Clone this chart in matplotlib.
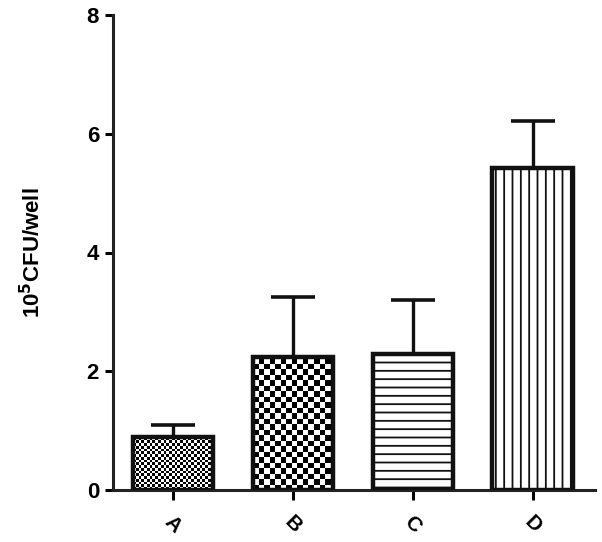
import matplotlib.pyplot as plt
import numpy as np
from matplotlib.patches import Rectangle

plt.rcParams['font.family'] = ['Liberation Sans', 'DejaVu Sans']
plt.rcParams['font.weight'] = 'bold'
plt.rcParams['hatch.linewidth'] = 1.3

groups = ['A', 'B', 'C', 'D']
means = [0.89, 2.24, 2.29, 5.42]
sems = [0.20, 1.01, 0.91, 0.79]
fills = ['check_fine', 'check_coarse', '--', '||']

fig = plt.figure(figsize=(6.02, 5.42), dpi=100)
ax = fig.add_axes([113 / 602, 52 / 542, (595 - 113) / 602, (490 - 15) / 542])
ax.set_xlim(-0.5, 3.52)
ax.set_ylim(0, 8)

x = np.arange(len(groups))
w = 0.67
ax.errorbar(x, means, yerr=[np.zeros(len(sems)), sems], fmt='none', ecolor='#111111',
            elinewidth=2.4, capsize=16, capthick=2.6, zorder=1)
bars = ax.bar(x, means, w, color='white', edgecolor='#111111', linewidth=3.2, zorder=3)

fig.canvas.draw()
px_x = ax.transData.transform((1, 0))[0] - ax.transData.transform((0, 0))[0]
px_y = ax.transData.transform((0, 1))[1] - ax.transData.transform((0, 0))[1]

# checkerboard fills are drawn as images clipped to the bar
for bar, fill in zip(bars, fills):
    if fill.startswith('check'):
        bar.set_facecolor('none')
        cell = 2.75 if fill == 'check_fine' else 5.5
        x0, y0 = bar.get_x(), bar.get_y()
        bw, bh = bar.get_width(), bar.get_height()
        nx = int(np.ceil(bw * px_x / cell))
        ny = int(np.ceil(bh * px_y / cell))
        board = (np.add.outer(np.arange(ny), np.arange(nx)) % 2).astype(float)
        im = ax.imshow(board, cmap='gray', vmin=0, vmax=1, interpolation='nearest',
                       origin='lower', aspect='auto', zorder=2,
                       extent=(x0, x0 + nx * cell / px_x, y0, y0 + ny * cell / px_y))
        clip = Rectangle((x0, y0), bw, bh, transform=ax.transData)
        im.set_clip_path(clip)
    else:
        bar.set_hatch(fill)
        bar.set_facecolor('white')

ax.set_xlim(-0.5, 3.52)
ax.set_ylim(0, 8)

for s in ['top', 'right']:
    ax.spines[s].set_visible(False)
for s in ['left', 'bottom']:
    ax.spines[s].set_linewidth(2.2)
    ax.spines[s].set_color('#222222')

ax.set_yticks([0, 2, 4, 6, 8])
ax.set_xticks(x)
ax.set_xticklabels(groups, rotation=-45, ha='center', fontsize=15, fontweight='bold')
ax.tick_params(axis='y', labelsize=16, width=2.2, length=6, pad=4)
ax.tick_params(axis='x', width=2.2, length=7, pad=9)
ax.set_ylabel('10$^{\\mathbf{5}}$CFU/well', fontsize=16, fontweight='bold', labelpad=30)

fig.savefig('out.png', dpi=100)
